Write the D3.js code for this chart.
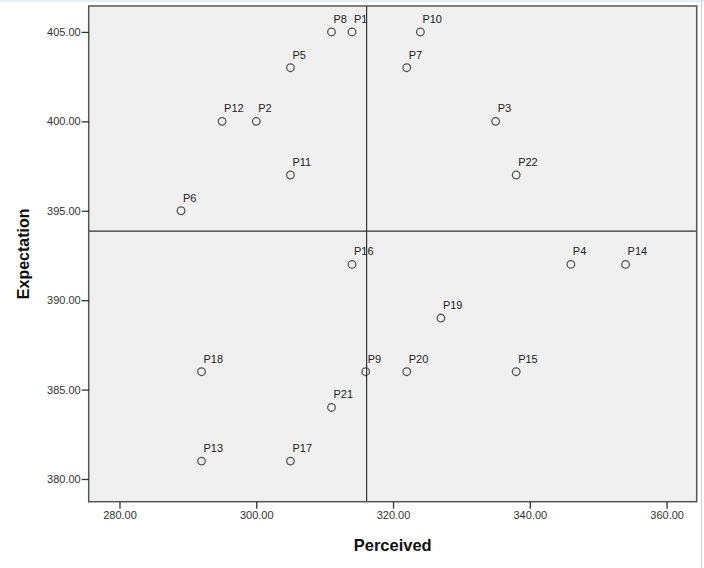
<!DOCTYPE html>
<html><head><meta charset="utf-8">
<script src="https://cdn.jsdelivr.net/npm/d3@7"></script>
<style>
body{margin:0;background:#fff;}
svg{display:block;font-family:"Liberation Sans",Arial,sans-serif;}
</style></head>
<body>
<svg id="chart" width="704" height="568"></svg>
<script>
const labels = ["P1","P2","P3","P4","P5","P6","P7","P8","P9","P10","P11","P12","P13","P14","P15","P16","P17","P18","P19","P20","P21","P22"];
const perceived = [314,300,335,346,305,289,322,311,316,324,305,295,292,354,338,314,305,292,327,322,311,338];
const expectation = [405,400,400,392,403,395,403,405,386,405,397,400,381,392,386,392,381,386,389,386,384,397];
const xTicks = [280,300,320,340,360];
const yTicks = [380,385,390,395,400,405];

const svg = d3.select("#chart");
const L = 88.7, R = 696.7, T = 6, B = 501.7;
const x = d3.scaleLinear().domain([275.5, 364.4]).range([L, R]);
const y = d3.scaleLinear().domain([378.73, 406.45]).range([B, T]);

// page decorations
svg.append("rect").attr("x",0).attr("y",0).attr("width",704).attr("height",2).attr("fill","#e6eef8");
svg.append("line").attr("x1",701.5).attr("x2",701.5).attr("y1",0).attr("y2",568).attr("stroke","#d0d0d0");

svg.append("rect").attr("x",L).attr("y",T).attr("width",R-L).attr("height",B-T)
  .attr("fill","#f0f0f0");

const meanX = d3.mean(perceived), meanY = d3.mean(expectation);

const g = svg.append("g");
const pts = labels.map((l,i)=>({l, px:perceived[i], ey:expectation[i]}));
g.selectAll("circle").data(pts).join("circle")
  .attr("cx",d=>x(d.px)).attr("cy",d=>y(d.ey)).attr("r",3.8)
  .attr("fill","none").attr("stroke","#555").attr("stroke-width",1.3);
g.selectAll("text").data(pts).join("text")
  .attr("x",d=>x(d.px)+2).attr("y",d=>y(d.ey)-9)
  .attr("font-size",11).attr("fill","#222").text(d=>d.l);

svg.append("line").attr("x1",x(meanX)).attr("x2",x(meanX)).attr("y1",T).attr("y2",B)
  .attr("stroke","#333").attr("stroke-width",1.2);
svg.append("line").attr("x1",L).attr("x2",R).attr("y1",y(meanY)).attr("y2",y(meanY))
  .attr("stroke","#333").attr("stroke-width",1.2);

svg.append("rect").attr("x",L).attr("y",T).attr("width",R-L).attr("height",B-T)
  .attr("fill","none").attr("stroke","#555").attr("stroke-width",1.5);

const xAxis = svg.append("g").attr("transform",`translate(0,${B})`)
  .call(d3.axisBottom(x).tickValues(xTicks).tickFormat(d3.format(".2f")).tickSize(7).tickSizeOuter(0));
const yAxis = svg.append("g").attr("transform",`translate(${L},0)`)
  .call(d3.axisLeft(y).tickValues(yTicks).tickFormat(d3.format(".2f")).tickSize(7).tickSizeOuter(0));
[xAxis,yAxis].forEach(a=>{
  a.select(".domain").remove();
  a.selectAll(".tick line").attr("stroke","#333").attr("stroke-width",1.3);
  a.selectAll(".tick text").attr("font-size",11).attr("fill","#333")
   .attr("font-family","Liberation Sans, Arial, sans-serif");
});
xAxis.selectAll(".tick text").attr("dy","0.71em").attr("y",10);
yAxis.selectAll(".tick text").attr("x",-8);

svg.append("text").attr("x",(L+R)/2).attr("y",551).attr("text-anchor","middle")
  .attr("font-size",16.5).attr("font-weight","bold").attr("fill","#111").text("Perceived");
svg.append("text").attr("transform",`translate(29,${(T+B)/2}) rotate(-90)`).attr("text-anchor","middle")
  .attr("font-size",16).attr("font-weight","bold").attr("fill","#111").text("Expectation");
</script>
</body></html>
